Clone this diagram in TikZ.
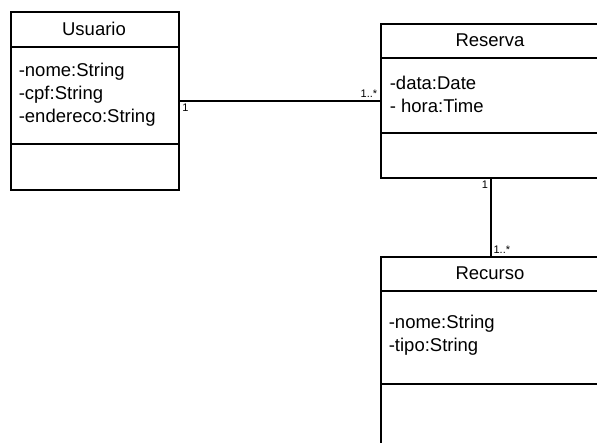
\documentclass[tikz,border=0pt]{standalone}
\usepackage{fontspec}
\setmainfont{Liberation Sans}
\usetikzlibrary{positioning}

\tikzset{
    classbox/.style={draw, line width=1.6pt, inner sep=0pt, anchor=north west},
    attrs/.style={anchor=west, align=left, inner sep=0pt, font=\fontsize{18.5}{23}\selectfont},
    title/.style={inner sep=0pt, font=\fontsize{18.5}{21}\selectfont},
    mult/.style={inner sep=2pt, font=\fontsize{11}{12}\selectfont}
}

\begin{document}
\begin{tikzpicture}[x=1pt,y=-1pt,line width=1.6pt]
    \useasboundingbox (0,0) rectangle (597,443);
    \clip (0,0) rectangle (597,443);

    % classes
    \node[classbox, minimum width=168, minimum height=178] (usuario) at (10,11) {};
    \node[classbox, minimum width=220, minimum height=154] (reserva) at (380,23) {};
    \node[classbox, minimum width=220, minimum height=214] (recurso) at (380,256) {};

    % compartments
    \draw (10,47) -- (178,47);
    \draw (10,144) -- (178,144);
    \draw (380,58) -- (600,58);
    \draw (380,133) -- (600,133);
    \draw (380,291) -- (600,291);
    \draw (380,384) -- (600,384);

    % names and attributes
    \node[title] (usuarioName) at (94,29) {Usuario};
    \node[attrs] (usuarioAttr) at (18,94.5) {-nome:String\\-cpf:String\\-endereco:String};
    \node[title] (reservaName) at (490,40) {Reserva};
    \node[attrs] (reservaAttr) at (389,94) {-data:Date\\- hora:Time};
    \node[title] (recursoName) at (490,273) {Recurso};
    \node[attrs] (recursoAttr) at (388,335.5) {-nome:String\\-tipo:String};

    % associations
    \draw (usuario.east) -- (usuario.east -| reserva.west) coordinate (reservaEnd);
    \draw (reserva.south) -- (recurso.north);
    \node[mult, anchor=north west] at (usuario.east) {1};
    \node[mult, anchor=south east] at (reservaEnd) {1..*};
    \node[mult, anchor=north east] at (reserva.south) {1};
    \node[mult, anchor=south west] at (recurso.north) {1..*};
\end{tikzpicture}
\end{document}
